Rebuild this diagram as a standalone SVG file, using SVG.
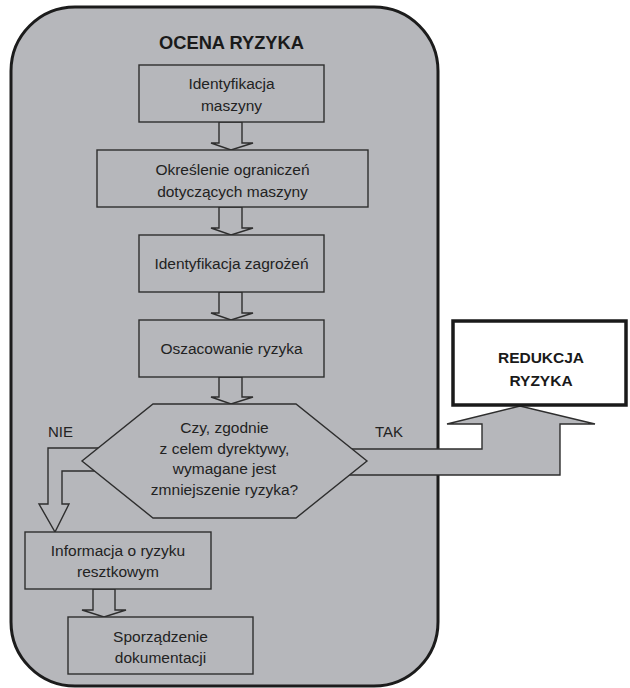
<svg xmlns="http://www.w3.org/2000/svg" width="630" height="688" viewBox="0 0 630 688">
  <style>
    .frame { fill: #b6b7bb; stroke: #1c1c1c; stroke-width: 3; }
    .box { fill: #b6b7bb; stroke: #2e2e2e; stroke-width: 1.4; }
    .arrow { fill: #b6b7bb; stroke: #2e2e2e; stroke-width: 1.4; stroke-linejoin: miter; }
    .txt { font-family: "Liberation Sans", Arial, sans-serif; font-size: 15.5px; fill: #222; text-anchor: middle; }
    .lbl { font-family: "Liberation Sans", Arial, sans-serif; font-size: 15px; fill: #222; }
    .title { font-family: "Liberation Sans", Arial, sans-serif; font-size: 19px; font-weight: bold; fill: #1a1a1a; text-anchor: middle; }
    .red { font-family: "Liberation Sans", Arial, sans-serif; font-size: 15.5px; font-weight: bold; fill: #1a1a1a; text-anchor: middle; }
  </style>

  <!-- outer risk-assessment frame -->
  <g id="ocena-ryzyka">
    <rect class="frame" x="11" y="7" width="427" height="679" rx="64" ry="64"/>
    <text class="title" x="231.5" y="49" textLength="145" lengthAdjust="spacingAndGlyphs">OCENA RYZYKA</text>
  </g>

  <!-- connectors -->
  <g id="connectors">
    <polygon class="arrow" points="219,122 242,122 242,143 253,143 231,150 211,143 219,143"/>
    <polygon class="arrow" points="219,207 242,207 242,228 253,228 231,235 211,228 219,228"/>
    <polygon class="arrow" points="219,292 242,292 242,313 253,313 231,320 211,313 219,313"/>
    <polygon class="arrow" points="219,377 242,377 242,397 253,397 231,404 211,397 219,397"/>
    <!-- NIE branch -->
    <polygon class="arrow" points="110,448 48,448 48,504 39,504 55,532 69,504 62,504 62,471 110,471"/>
    <!-- TAK branch -->
    <polygon class="arrow" points="340,449 482,449 482,424 447,424 520,406 595,424 560,424 560,475 340,475"/>
    <polygon class="arrow" points="93,589 115,589 115,610 126,610 104,617 82,610 93,610"/>
  </g>

  <g id="identyfikacja-maszyny">
    <rect class="box" x="139" y="65" width="185" height="57"/>
    <text class="txt" x="231.5" y="89">Identyfikacja</text>
    <text class="txt" x="231.5" y="111">maszyny</text>
  </g>

  <g id="okreslenie-ograniczen">
    <rect class="box" x="97" y="150" width="271" height="57"/>
    <text class="txt" x="232.5" y="175">Określenie ograniczeń</text>
    <text class="txt" x="232.5" y="197">dotyczących maszyny</text>
  </g>

  <g id="identyfikacja-zagrozen">
    <rect class="box" x="139" y="235" width="185" height="57"/>
    <text class="txt" x="231.5" y="269">Identyfikacja zagrożeń</text>
  </g>

  <g id="oszacowanie-ryzyka">
    <rect class="box" x="139" y="320" width="185" height="57"/>
    <text class="txt" x="231.5" y="354">Oszacowanie ryzyka</text>
  </g>

  <g id="decyzja">
    <polygon class="box" points="153,404 296,404 367,461 296,518 153,518 82,461"/>
    <text class="txt" x="224.5" y="433">Czy, zgodnie</text>
    <text class="txt" x="224.5" y="453.5">z celem dyrektywy,</text>
    <text class="txt" x="224.5" y="474">wymagane jest</text>
    <text class="txt" x="224.5" y="494.5">zmniejszenie ryzyka?</text>
    <text class="lbl" x="48" y="437">NIE</text>
    <text class="lbl" x="375" y="437">TAK</text>
  </g>

  <g id="informacja-ryzyko-resztkowe">
    <rect class="box" x="25" y="532" width="186" height="57"/>
    <text class="txt" x="118" y="556">Informacja o ryzyku</text>
    <text class="txt" x="118" y="577">resztkowym</text>
  </g>

  <g id="dokumentacja">
    <rect class="box" x="68" y="617" width="185" height="57"/>
    <text class="txt" x="160.5" y="642">Sporządzenie</text>
    <text class="txt" x="160.5" y="663">dokumentacji</text>
  </g>

  <g id="redukcja-ryzyka">
    <rect x="453" y="321" width="173" height="84" fill="#ffffff" stroke="#1a1a1a" stroke-width="3.5"/>
    <text class="red" x="541" y="363">REDUKCJA</text>
    <text class="red" x="541" y="386">RYZYKA</text>
  </g>
</svg>
